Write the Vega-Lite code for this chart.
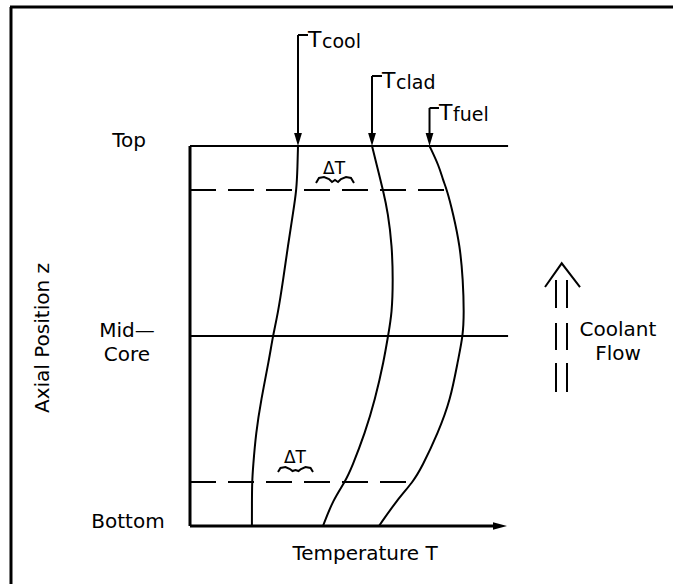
{
  "$schema": "https://vega.github.io/schema/vega-lite/v6.json",
  "width": 673,
  "height": 584,
  "autosize": "none",
  "padding": 0,
  "background": "white",
  "config": {"view": {"stroke": null}, "text": {"font": "DejaVu Sans", "color": "black"}},
  "datasets": {
    "seg": [
      {"g": "frame", "T": -56.25, "z": 136.58, "T2": 150.94, "z2": 136.58},
      {"g": "frame", "T": -55.94, "z": 136.58, "T2": -55.94, "z2": -15.26},
      {"g": "axis", "T": 0, "z": 0, "T2": 0, "z2": 100},
      {"g": "axis", "T": 0, "z": 0, "T2": 96, "z2": 0},
      {"g": "top", "T": 0, "z": 100, "T2": 99.4, "z2": 100},
      {"g": "mid", "T": 0, "z": 50, "T2": 99.4, "z2": 50},
      {"g": "dash", "T": 0, "z": 88.42, "T2": 80.3, "z2": 88.42},
      {"g": "dash", "T": 0, "z": 11.58, "T2": 69.7, "z2": 11.58},
      {"g": "lead", "T": 33.75, "z": 129.21, "T2": 33.75, "z2": 103},
      {"g": "lead", "T": 33.75, "z": 129.21, "T2": 36.88, "z2": 129.21},
      {"g": "lead", "T": 56.88, "z": 118.42, "T2": 56.88, "z2": 103},
      {"g": "lead", "T": 56.88, "z": 118.42, "T2": 60, "z2": 118.42},
      {"g": "lead", "T": 74.85, "z": 110, "T2": 74.85, "z2": 103},
      {"g": "lead", "T": 74.85, "z": 110, "T2": 77.81, "z2": 110},
      {"g": "flow", "T": 114.38, "z": 64.74, "T2": 114.38, "z2": 57.37},
      {"g": "flow", "T": 117.81, "z": 64.74, "T2": 117.81, "z2": 57.37},
      {"g": "flow", "T": 114.38, "z": 53.42, "T2": 114.38, "z2": 46.32},
      {"g": "flow", "T": 117.81, "z": 53.42, "T2": 117.81, "z2": 46.32},
      {"g": "flow", "T": 114.38, "z": 42.89, "T2": 114.38, "z2": 35.26},
      {"g": "flow", "T": 117.81, "z": 42.89, "T2": 117.81, "z2": 35.26}
    ],
    "curves": [
      {"s": "cool", "z": 100, "T": 33.75}, {"s": "cool", "z": 94.74, "T": 33.6}, {"s": "cool", "z": 88.42, "T": 33.3},
      {"s": "cool", "z": 82.37, "T": 32.2}, {"s": "cool", "z": 73.68, "T": 30.6}, {"s": "cool", "z": 64.74, "T": 29.1},
      {"s": "cool", "z": 56.05, "T": 27.5}, {"s": "cool", "z": 50, "T": 25.9}, {"s": "cool", "z": 43.68, "T": 24.7},
      {"s": "cool", "z": 33.16, "T": 22.2}, {"s": "cool", "z": 24.47, "T": 20.6}, {"s": "cool", "z": 15.53, "T": 19.7},
      {"s": "cool", "z": 11.58, "T": 19.4}, {"s": "cool", "z": 5.8, "T": 19.35}, {"s": "cool", "z": 0, "T": 19.35},
      {"s": "clad", "z": 100, "T": 56.88}, {"s": "clad", "z": 94.74, "T": 58.44}, {"s": "clad", "z": 88.42, "T": 60.31},
      {"s": "clad", "z": 82.37, "T": 61.88}, {"s": "clad", "z": 73.68, "T": 63.13}, {"s": "clad", "z": 64.74, "T": 63.44},
      {"s": "clad", "z": 56.05, "T": 63.13}, {"s": "clad", "z": 50, "T": 61.88}, {"s": "clad", "z": 43.68, "T": 60.63},
      {"s": "clad", "z": 33.16, "T": 57.81}, {"s": "clad", "z": 24.47, "T": 54.69}, {"s": "clad", "z": 15.53, "T": 50.63},
      {"s": "clad", "z": 11.58, "T": 48.44}, {"s": "clad", "z": 6.84, "T": 44.69}, {"s": "clad", "z": 0, "T": 41.56},
      {"s": "fuel", "z": 100, "T": 74.85}, {"s": "fuel", "z": 94.74, "T": 77.81}, {"s": "fuel", "z": 91.05, "T": 79.06},
      {"s": "fuel", "z": 88.42, "T": 80.31}, {"s": "fuel", "z": 82.37, "T": 82.19}, {"s": "fuel", "z": 73.68, "T": 84.38},
      {"s": "fuel", "z": 64.74, "T": 85.31}, {"s": "fuel", "z": 56.05, "T": 85.63}, {"s": "fuel", "z": 50, "T": 85.31},
      {"s": "fuel", "z": 43.68, "T": 83.75}, {"s": "fuel", "z": 33.16, "T": 81.4}, {"s": "fuel", "z": 24.47, "T": 77.5},
      {"s": "fuel", "z": 15.53, "T": 72.5}, {"s": "fuel", "z": 11.58, "T": 69.69}, {"s": "fuel", "z": 6.84, "T": 64.69},
      {"s": "fuel", "z": 0, "T": 59.06}
    ],
    "braces": [
      {"b": "top", "o": 1, "T": 39.38, "z": 90.26}, {"b": "top", "o": 2, "T": 40.31, "z": 91.58},
      {"b": "top", "o": 3, "T": 41.88, "z": 91.84}, {"b": "top", "o": 4, "T": 43.44, "z": 91.32},
      {"b": "top", "o": 5, "T": 44.38, "z": 90.53}, {"b": "top", "o": 6, "T": 45.31, "z": 91.05},
      {"b": "top", "o": 7, "T": 46.25, "z": 90.53}, {"b": "top", "o": 8, "T": 47.19, "z": 91.32},
      {"b": "top", "o": 9, "T": 48.75, "z": 91.84}, {"b": "top", "o": 10, "T": 50.31, "z": 91.58},
      {"b": "top", "o": 11, "T": 51.25, "z": 90.26},
      {"b": "bot", "o": 1, "T": 27.5, "z": 14.21}, {"b": "bot", "o": 2, "T": 28.28, "z": 15.26},
      {"b": "bot", "o": 3, "T": 29.84, "z": 15.53}, {"b": "bot", "o": 4, "T": 31.25, "z": 15.0},
      {"b": "bot", "o": 5, "T": 32.03, "z": 14.47}, {"b": "bot", "o": 6, "T": 32.97, "z": 14.74},
      {"b": "bot", "o": 7, "T": 33.91, "z": 14.47}, {"b": "bot", "o": 8, "T": 34.69, "z": 15.0},
      {"b": "bot", "o": 9, "T": 36.09, "z": 15.53}, {"b": "bot", "o": 10, "T": 37.66, "z": 15.26},
      {"b": "bot", "o": 11, "T": 38.44, "z": 14.21},
      {"b": "chev", "o": 1, "T": 110.94, "z": 62.89}, {"b": "chev", "o": 2, "T": 116.16, "z": 69.13},
      {"b": "chev", "o": 3, "T": 121.88, "z": 62.89}
    ],
    "heads": [
      {"h": "down", "T": 33.75, "z": 101.71},
      {"h": "down", "T": 56.88, "z": 101.71},
      {"h": "down", "T": 74.85, "z": 101.71},
      {"h": "right", "T": 96.88, "z": 0}
    ],
    "labels": [
      {"k": "lab", "t": "Top", "T": -19.06, "z": 99.74},
      {"k": "lab", "t": "Mid—", "T": -19.69, "z": 49.74},
      {"k": "lab", "t": "Core", "T": -19.69, "z": 43.42},
      {"k": "lab", "t": "Bottom", "T": -19.38, "z": -0.53},
      {"k": "lab", "t": "Temperature T", "T": 54.69, "z": -8.95},
      {"k": "lab", "t": "Coolant", "T": 133.75, "z": 50},
      {"k": "lab", "t": "Flow", "T": 133.75, "z": 43.68},
      {"k": "rot", "t": "Axial Position z", "T": -45.94, "z": 49.47},
      {"k": "dt", "t": "ΔT", "T": 45, "z": 92.63},
      {"k": "dt", "t": "ΔT", "T": 32.81, "z": 16.58},
      {"k": "big", "t": "T", "T": 36.88, "z": 126.05},
      {"k": "big", "t": "T", "T": 60, "z": 115.26},
      {"k": "big", "t": "T", "T": 77.81, "z": 106.84},
      {"k": "sub", "t": "cool", "T": 41.25, "z": 125.79},
      {"k": "sub", "t": "clad", "T": 64.38, "z": 115.0},
      {"k": "sub", "t": "fuel", "T": 82.19, "z": 106.58}
    ]
  },
  "encoding": {
    "x": {"field": "T", "type": "quantitative", "axis": null, "scale": {"domain": [-59.375, 150.9375], "nice": false, "zero": false}},
    "y": {"field": "z", "type": "quantitative", "axis": null, "scale": {"domain": [-15.263, 138.421], "nice": false, "zero": false}}
  },
  "layer": [
    {
      "data": {"name": "seg"},
      "transform": [{"filter": "datum.g === 'frame' || datum.g === 'axis'"}],
      "mark": {"type": "rule", "color": "black", "strokeWidth": 3},
      "encoding": {"x2": {"field": "T2"}, "y2": {"field": "z2"}}
    },
    {
      "data": {"name": "seg"},
      "transform": [{"filter": "datum.g === 'top' || datum.g === 'mid'"}],
      "mark": {"type": "rule", "color": "black", "strokeWidth": 2.2},
      "encoding": {"x2": {"field": "T2"}, "y2": {"field": "z2"}}
    },
    {
      "data": {"name": "seg"},
      "transform": [{"filter": "datum.g === 'dash'"}],
      "mark": {"type": "rule", "color": "black", "strokeWidth": 2, "strokeDash": [26, 12]},
      "encoding": {"x2": {"field": "T2"}, "y2": {"field": "z2"}}
    },
    {
      "data": {"name": "seg"},
      "transform": [{"filter": "datum.g === 'lead' || datum.g === 'flow'"}],
      "mark": {"type": "rule", "color": "black", "strokeWidth": 2},
      "encoding": {"x2": {"field": "T2"}, "y2": {"field": "z2"}}
    },
    {
      "data": {"name": "curves"},
      "mark": {"type": "line", "color": "black", "strokeWidth": 2, "interpolate": "basis"},
      "encoding": {"detail": {"field": "s"}, "order": {"field": "z", "type": "quantitative"}}
    },
    {
      "data": {"name": "braces"},
      "mark": {"type": "line", "color": "black", "strokeWidth": 2, "interpolate": "linear"},
      "encoding": {"detail": {"field": "b"}, "order": {"field": "o", "type": "quantitative"}}
    },
    {
      "data": {"name": "heads"},
      "transform": [{"filter": "datum.h === 'down'"}],
      "mark": {"type": "point", "filled": true, "color": "black", "opacity": 1, "shape": "M-0.6,-1L0.6,-1L0,1Z", "size": 169}
    },
    {
      "data": {"name": "heads"},
      "transform": [{"filter": "datum.h === 'right'"}],
      "mark": {"type": "point", "filled": true, "color": "black", "opacity": 1, "shape": "M-1,-0.55L1,0L-1,0.55Z", "size": 196}
    },
    {
      "data": {"name": "labels"},
      "transform": [{"filter": "datum.k === 'lab'"}],
      "mark": {"type": "text", "fontSize": 20, "align": "center", "baseline": "alphabetic"},
      "encoding": {"text": {"field": "t"}}
    },
    {
      "data": {"name": "labels"},
      "transform": [{"filter": "datum.k === 'rot'"}],
      "mark": {"type": "text", "fontSize": 20, "align": "center", "baseline": "middle", "angle": 270},
      "encoding": {"text": {"field": "t"}}
    },
    {
      "data": {"name": "labels"},
      "transform": [{"filter": "datum.k === 'dt'"}],
      "mark": {"type": "text", "fontSize": 17, "align": "center", "baseline": "alphabetic"},
      "encoding": {"text": {"field": "t"}}
    },
    {
      "data": {"name": "labels"},
      "transform": [{"filter": "datum.k === 'big'"}],
      "mark": {"type": "text", "fontSize": 22, "align": "left", "baseline": "alphabetic"},
      "encoding": {"text": {"field": "t"}}
    },
    {
      "data": {"name": "labels"},
      "transform": [{"filter": "datum.k === 'sub'"}],
      "mark": {"type": "text", "fontSize": 19, "align": "left", "baseline": "alphabetic"},
      "encoding": {"text": {"field": "t"}}
    }
  ]
}
